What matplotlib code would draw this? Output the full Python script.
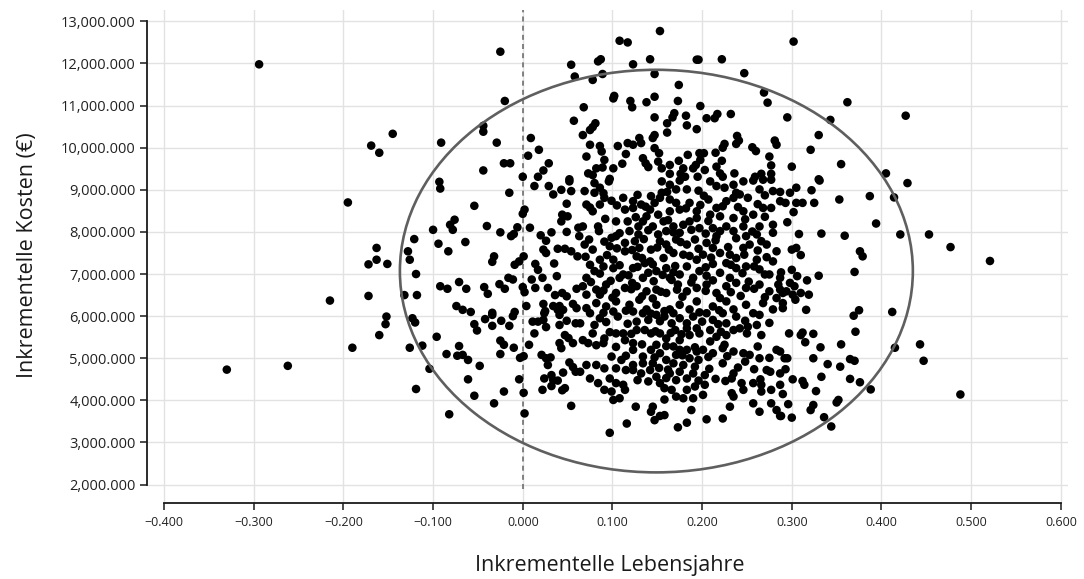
import numpy as np
import matplotlib
matplotlib.use("Agg")
import matplotlib.pyplot as plt
from matplotlib.patches import Ellipse

# ---------------- data ----------------
# incremental life years (x) and incremental costs in million EUR (y)
lebensjahre = [
    -0.294, -0.160, -0.169, -0.195, -0.163, -0.163, -0.172, -0.215, -0.172, -0.160,
    -0.190, -0.262, -0.330, -0.025, 0.054, 0.058, -0.020, 0.057, -0.145, -0.044,
    -0.044, -0.091, -0.029, 0.009, 0.018, 0.006, -0.021, -0.014, 0.029, -0.044,
    0.023, 0.000, 0.017, 0.052,
    # upper centre
    0.153, 0.108, 0.117, 0.084, 0.087, 0.123, 0.142, 0.194, 0.196, 0.222,
    0.247, 0.089, 0.078, 0.147, 0.174, 0.269, 0.273, 0.102, 0.101, 0.120,
    0.122, 0.138, 0.147, 0.173, 0.198, 0.068, 0.169, 0.167, 0.147, 0.182,
    0.205, 0.214, 0.217, 0.232, 0.161, 0.183, 0.194, 0.161, 0.081, 0.078,
    0.075, 0.067, 0.147, 0.145, 0.130, 0.132, 0.117, 0.123, 0.106, 0.075,
    0.086, 0.088, 0.147, 0.152, 0.239, 0.241, 0.238, 0.225, 0.223, 0.256,
    0.260, 0.281, 0.283, 0.071, 0.091, 0.115, 0.134, 0.137, 0.140, 0.151,
    0.164, 0.184, 0.174, 0.197, 0.202, 0.198, 0.193, 0.190, 0.215, 0.222,
    0.275, 0.277, 0.111, 0.101, 0.082, 0.089, 0.216, 0.220, 0.223, 0.203,
    0.179, 0.176, 0.181, 0.155, 0.164, 0.236, 0.266, 0.259, 0.277, 0.073,
    0.078, 0.097, 0.195,
    # right side
    0.302, 0.362, 0.295, 0.343, 0.427, 0.330, 0.321, 0.300, 0.355, 0.405,
    0.330, 0.331, 0.429, 0.305, 0.298, 0.287, 0.322, 0.293, 0.305, 0.312,
    0.325, 0.353, 0.387, 0.414, 0.302, 0.295, 0.394, 0.308, 0.333, 0.359,
    0.421, 0.453, 0.477, 0.300, 0.305, 0.310, 0.376, 0.379, 0.300, 0.288,
    0.370, 0.330, 0.306, 0.317, 0.298, 0.303, 0.294, 0.301, 0.287, 0.290,
    0.310, 0.319, 0.304, 0.290, 0.290, 0.316, 0.375, 0.412, 0.521, 0.369,
    0.297, 0.310, 0.312, 0.315, 0.324, 0.332, 0.355, 0.371, 0.415, 0.443,
    0.447, 0.287, 0.292, 0.295, 0.324, 0.340, 0.354, 0.365, 0.370, 0.293,
    0.301, 0.312, 0.314, 0.333, 0.365, 0.376, 0.388, 0.287, 0.290, 0.327,
    0.488, 0.296, 0.352, 0.350, 0.324, 0.321, 0.288, 0.300, 0.336, 0.344,
    # left centre, middle band
    -0.093, -0.092, 0.013, 0.029, 0.034, 0.052, 0.054, 0.043, -0.015, -0.054,
    0.049, 0.002, 0.000, 0.044, 0.050, 0.043, -0.076, -0.081, -0.078, -0.100,
    -0.040, -0.006, 0.008, -0.025, -0.013, -0.010, 0.020, 0.032, 0.049, 0.062,
    0.063, -0.121, -0.094, -0.064, -0.083, 0.026, 0.023, 0.026, 0.039, 0.047,
    0.054, 0.061, -0.128, -0.126, -0.151, -0.032, -0.034, 0.001, -0.004, -0.009,
    0.014, 0.017, 0.035, -0.119, -0.016, -0.011, 0.010, 0.022, 0.038, -0.092,
    -0.084, -0.071, -0.063, -0.043, -0.039, -0.026, -0.020, 0.000, 0.002, 0.014,
    0.028, 0.060, -0.132, -0.118, 0.036, 0.044, 0.049, -0.074, -0.067, -0.058,
    -0.034, -0.009, 0.004, 0.023, 0.025, 0.034, 0.041, 0.045, 0.056, 0.060,
    # left centre, lower band
    -0.152, -0.153, -0.123, -0.120, -0.054, -0.051, -0.042, -0.034, -0.034, -0.024,
    -0.015, -0.011, 0.011, 0.017, 0.013, 0.024, 0.023, 0.026, 0.039, 0.041,
    0.041, 0.049, 0.059, 0.047, 0.051, 0.041, 0.043, 0.056, -0.096, -0.126,
    -0.112, -0.071, -0.025, -0.021, -0.010, 0.007, -0.085, -0.073, -0.067, -0.061,
    -0.025, -0.003, 0.001, 0.021, 0.026, 0.031, 0.028, 0.052, 0.056, 0.059,
    -0.048, -0.104, 0.045, -0.061, -0.004, 0.024, 0.032, 0.034, 0.039, 0.032,
    0.022, 0.047, 0.044, -0.119, -0.021, 0.001, -0.054, -0.032, 0.054, -0.082,
    0.002,
    # dense centre, upper half
    0.069, 0.080, 0.096, 0.086, 0.080, 0.155, 0.164, 0.175, 0.171, 0.155,
    0.143, 0.183, 0.196, 0.209, 0.216, 0.225, 0.235, 0.246, 0.257, 0.268,
    0.277, 0.264, 0.242, 0.235, 0.251, 0.279, 0.071, 0.078, 0.086, 0.091,
    0.099, 0.112, 0.123, 0.114, 0.123, 0.132, 0.142, 0.147, 0.151, 0.153,
    0.164, 0.171, 0.175, 0.186, 0.164, 0.194, 0.209, 0.207, 0.216, 0.223,
    0.227, 0.246, 0.257, 0.268, 0.277, 0.287, 0.235, 0.220, 0.067, 0.084,
    0.104, 0.117, 0.129, 0.134, 0.145, 0.138, 0.157, 0.168, 0.179, 0.186,
    0.160, 0.175, 0.151, 0.129, 0.119, 0.197, 0.212, 0.227, 0.235, 0.246,
    0.264, 0.279, 0.220, 0.216, 0.249, 0.261, 0.279, 0.104, 0.069, 0.099,
    0.097, 0.114, 0.125, 0.130, 0.143, 0.153, 0.160, 0.171, 0.183, 0.192,
    0.168, 0.179, 0.157, 0.142, 0.127, 0.114, 0.101, 0.078, 0.086, 0.205,
    0.212, 0.220, 0.201, 0.194, 0.231, 0.238, 0.246, 0.253, 0.272, 0.283,
    0.279, 0.261, 0.075, 0.080, 0.071, 0.090, 0.101, 0.112, 0.123, 0.136,
    0.149, 0.160, 0.175, 0.183, 0.190, 0.197, 0.212, 0.220, 0.227, 0.238,
    0.249, 0.231, 0.264, 0.275, 0.287, 0.108, 0.134, 0.164, 0.067, 0.082,
    0.093, 0.104, 0.114, 0.127, 0.138, 0.149, 0.160, 0.173, 0.183, 0.194,
    0.205, 0.216, 0.227, 0.238, 0.249, 0.264, 0.275, 0.285, 0.086, 0.071,
    0.071, 0.082, 0.093, 0.104, 0.119, 0.130, 0.138, 0.149, 0.164, 0.175,
    0.186, 0.194, 0.212, 0.227, 0.235, 0.249, 0.268, 0.279, 0.283,
    # dense centre, lower half
    0.075, 0.086, 0.080, 0.101, 0.106, 0.123, 0.134, 0.127, 0.140, 0.149,
    0.158, 0.168, 0.175, 0.183, 0.190, 0.205, 0.212, 0.223, 0.238, 0.227,
    0.264, 0.261, 0.251, 0.242, 0.064, 0.194, 0.067, 0.078, 0.073, 0.091,
    0.090, 0.104, 0.112, 0.114, 0.127, 0.136, 0.143, 0.153, 0.160, 0.170,
    0.175, 0.183, 0.186, 0.197, 0.209, 0.216, 0.227, 0.235, 0.209, 0.266,
    0.123, 0.149, 0.168, 0.175, 0.099, 0.110, 0.123, 0.134, 0.143, 0.153,
    0.160, 0.171, 0.183, 0.194, 0.201, 0.212, 0.223, 0.235, 0.246, 0.253,
    0.264, 0.283, 0.186, 0.196, 0.071, 0.082, 0.091, 0.064, 0.123, 0.134,
    0.145, 0.168, 0.179, 0.192, 0.223, 0.248, 0.075, 0.084, 0.104, 0.112,
    0.123, 0.132, 0.142, 0.149, 0.153, 0.164, 0.175, 0.171, 0.183, 0.190,
    0.192, 0.183, 0.203, 0.203, 0.235, 0.233, 0.244, 0.257, 0.266, 0.272,
    0.276, 0.287, 0.091, 0.099, 0.114, 0.140, 0.158, 0.166, 0.246, 0.108,
    0.101, 0.158, 0.171, 0.179, 0.190, 0.201, 0.233, 0.235, 0.257, 0.266,
    0.277, 0.277, 0.283, 0.126, 0.145, 0.231, 0.264, 0.188, 0.143, 0.147,
    0.153, 0.158, 0.116, 0.097, 0.173, 0.183, 0.205, 0.223, 0.287,
]

kosten_mio = [
    11.98, 9.88, 10.05, 8.70, 7.62, 7.34, 7.23, 6.37, 6.48, 5.55,
    5.25, 4.82, 4.73, 12.28, 11.97, 11.69, 11.11, 10.64, 10.33, 10.52,
    10.38, 10.12, 10.12, 10.23, 9.95, 9.81, 9.63, 9.63, 9.63, 9.46,
    9.46, 9.31, 9.31, 9.25,
    # upper centre
    12.77, 12.54, 12.50, 12.05, 12.10, 11.98, 12.10, 12.09, 12.09, 12.10,
    11.77, 11.75, 11.61, 11.75, 11.49, 11.31, 11.07, 11.23, 11.17, 11.11,
    10.96, 11.08, 11.21, 11.11, 10.99, 10.96, 10.82, 10.72, 10.72, 10.76,
    10.70, 10.70, 10.80, 10.80, 10.58, 10.53, 10.44, 10.36, 10.58, 10.49,
    10.42, 10.30, 10.30, 10.23, 10.23, 10.11, 10.11, 10.07, 10.04, 10.07,
    10.04, 9.91, 9.99, 9.87, 10.28, 10.17, 10.09, 10.09, 10.00, 10.01,
    9.92, 10.17, 10.07, 9.79, 9.71, 9.85, 9.75, 9.63, 9.54, 9.67,
    9.59, 9.83, 9.69, 9.87, 9.87, 9.71, 9.59, 9.51, 9.88, 9.69,
    9.79, 9.58, 9.62, 9.51, 9.51, 9.53, 9.55, 9.39, 9.31, 9.47,
    9.51, 9.38, 9.31, 9.51, 9.38, 9.39, 9.38, 9.31, 9.38, 9.39,
    9.35, 9.26, 9.31,
    # right side
    12.52, 11.08, 10.72, 10.66, 10.76, 10.30, 9.95, 9.55, 9.61, 9.39,
    9.25, 9.22, 9.16, 9.05, 8.93, 8.95, 8.99, 8.69, 8.69, 8.69,
    8.69, 8.77, 8.85, 8.82, 8.47, 8.23, 8.20, 7.95, 7.96, 7.91,
    7.94, 7.94, 7.64, 7.58, 7.62, 7.45, 7.54, 7.42, 7.10, 7.04,
    7.05, 6.96, 6.95, 6.85, 6.79, 6.71, 6.59, 6.51, 6.63, 6.55,
    6.55, 6.51, 6.39, 6.31, 6.19, 6.15, 6.14, 6.10, 7.31, 6.01,
    5.59, 5.55, 5.61, 5.38, 5.58, 5.26, 5.33, 5.63, 5.25, 5.33,
    4.94, 5.16, 5.00, 5.00, 5.00, 4.86, 4.80, 4.98, 4.94, 4.74,
    4.50, 4.46, 4.37, 4.56, 4.51, 4.43, 4.26, 4.37, 4.15, 4.22,
    4.14, 3.91, 4.01, 3.95, 3.89, 3.77, 3.63, 3.59, 3.60, 3.38,
    # left centre, middle band
    9.19, 9.03, 9.09, 9.09, 8.89, 9.20, 8.97, 9.00, 8.93, 8.62,
    8.67, 8.53, 8.43, 8.41, 8.37, 8.25, 8.29, 8.17, 8.05, 8.05,
    8.14, 8.11, 8.10, 7.99, 7.90, 7.95, 7.92, 7.99, 8.00, 8.10,
    7.90, 7.83, 7.72, 7.76, 7.54, 7.79, 7.58, 7.50, 7.60, 7.60,
    7.54, 7.42, 7.54, 7.34, 7.24, 7.42, 7.29, 7.42, 7.30, 7.22,
    7.24, 7.10, 7.25, 7.00, 6.91, 6.87, 6.87, 6.91, 6.95, 6.71,
    6.65, 6.81, 6.65, 6.69, 6.53, 6.76, 6.65, 6.69, 6.57, 6.67,
    6.67, 6.65, 6.50, 6.50, 6.50, 6.55, 6.47, 6.24, 6.15, 6.10,
    6.08, 6.10, 6.24, 6.29, 6.12, 6.24, 6.24, 6.15, 6.29, 6.19,
    # left centre, lower band
    5.99, 5.81, 5.95, 5.85, 5.81, 5.66, 5.93, 6.03, 5.77, 5.89,
    5.77, 6.00, 5.87, 5.87, 5.59, 6.07, 5.91, 5.74, 6.15, 6.03,
    5.79, 5.89, 5.83, 5.55, 5.48, 5.36, 5.24, 5.36, 5.51, 5.25,
    5.30, 5.29, 5.42, 5.32, 5.25, 5.32, 5.10, 5.06, 5.08, 4.96,
    5.10, 5.01, 5.05, 5.08, 5.00, 5.02, 4.84, 4.90, 4.79, 4.68,
    4.82, 4.75, 4.66, 4.50, 4.50, 4.52, 4.60, 4.48, 4.47, 4.34,
    4.25, 4.29, 4.24, 4.27, 4.21, 4.18, 4.11, 3.93, 3.87, 3.67,
    3.69,
    # dense centre, upper half
    8.97, 9.16, 9.20, 9.05, 8.93, 9.20, 9.12, 9.22, 9.01, 8.93,
    8.85, 9.01, 8.98, 9.20, 9.09, 9.05, 9.12, 9.20, 9.22, 9.24,
    9.24, 9.01, 8.89, 8.81, 8.81, 8.97, 8.65, 8.49, 8.65, 8.81,
    8.74, 8.81, 8.73, 8.53, 8.57, 8.65, 8.53, 8.69, 8.41, 8.81,
    8.77, 8.69, 8.53, 8.69, 8.49, 8.49, 8.41, 8.77, 8.57, 8.61,
    8.73, 8.49, 8.41, 8.57, 8.57, 8.73, 8.33, 8.37, 8.13, 8.13,
    8.25, 8.25, 8.13, 8.25, 8.13, 8.37, 8.25, 8.13, 8.17, 8.25,
    8.02, 7.98, 7.94, 7.94, 8.02, 8.09, 8.09, 8.13, 8.02, 8.13,
    8.13, 8.17, 8.02, 7.90, 7.90, 7.94, 7.98, 7.90, 7.70, 7.86,
    7.66, 7.74, 7.78, 7.62, 7.58, 7.78, 7.70, 7.82, 7.70, 7.82,
    7.50, 7.46, 7.38, 7.30, 7.42, 7.54, 7.34, 7.58, 7.34, 7.74,
    7.62, 7.50, 7.46, 7.34, 7.46, 7.38, 7.62, 7.70, 7.70, 7.54,
    7.30, 7.34, 7.22, 7.07, 6.91, 7.18, 7.14, 6.99, 7.14, 7.26,
    7.07, 7.14, 6.99, 7.18, 6.91, 7.07, 7.24, 7.03, 7.26, 7.14,
    7.18, 6.91, 7.11, 6.99, 6.91, 6.91, 6.91, 6.91, 6.71, 6.63,
    6.75, 6.55, 6.67, 6.71, 6.59, 6.63, 6.55, 6.75, 6.59, 6.67,
    6.75, 6.55, 6.71, 6.79, 6.67, 6.75, 6.59, 6.75, 6.51, 6.51,
    6.19, 6.31, 6.23, 6.35, 6.27, 6.39, 6.16, 6.27, 6.16, 6.27,
    6.16, 6.35, 6.23, 6.35, 6.16, 6.27, 6.31, 6.16, 6.43,
    # dense centre, lower half
    6.07, 5.95, 5.79, 6.11, 5.99, 6.11, 6.07, 5.87, 5.91, 6.03,
    5.99, 6.07, 5.95, 5.83, 5.99, 6.07, 5.91, 6.07, 5.99, 5.83,
    6.03, 5.79, 5.75, 5.71, 5.83, 5.71, 5.43, 5.59, 5.36, 5.47,
    5.36, 5.59, 5.59, 5.43, 5.67, 5.67, 5.59, 5.59, 5.47, 5.67,
    5.43, 5.71, 5.55, 5.59, 5.67, 5.51, 5.55, 5.67, 5.40, 5.55,
    5.36, 5.32, 5.28, 5.20, 5.04, 4.96, 5.20, 5.04, 5.20, 5.12,
    4.96, 5.08, 5.20, 5.16, 5.20, 5.12, 5.24, 5.16, 5.12, 5.08,
    5.00, 5.20, 5.00, 4.96, 4.84, 4.84, 4.76, 4.68, 4.84, 4.88,
    4.88, 4.88, 4.84, 4.80, 4.88, 4.92, 4.52, 4.41, 4.41, 4.37,
    4.72, 4.64, 4.72, 4.56, 4.41, 4.64, 4.68, 4.48, 4.52, 4.64,
    4.33, 4.25, 4.60, 4.37, 4.64, 4.52, 4.41, 4.41, 4.37, 4.72,
    4.68, 4.64, 4.25, 4.21, 4.25, 4.45, 4.29, 4.25, 4.25, 4.05,
    4.01, 4.02, 4.09, 4.05, 4.05, 4.13, 4.17, 4.09, 3.93, 4.21,
    4.25, 3.93, 3.77, 3.85, 3.85, 3.85, 3.73, 3.77, 3.73, 3.53,
    3.63, 3.65, 3.45, 3.23, 3.36, 3.47, 3.55, 3.57, 3.63,
]

# further points in the most crowded core of the cloud (overlapping dots)
kern_lebensjahre = [
    0.090, 0.128, 0.161, 0.202, 0.238, 0.270,
    0.075, 0.105, 0.137, 0.182, 0.198, 0.240, 0.262,
    0.092, 0.126, 0.162, 0.194, 0.207, 0.248, 0.270,
    0.085, 0.108, 0.140, 0.168, 0.188, 0.204, 0.256,
    0.074, 0.091, 0.135, 0.176, 0.215, 0.238, 0.266,
    0.105, 0.122, 0.150, 0.163, 0.196, 0.229, 0.262,
    0.070, 0.094, 0.133, 0.186, 0.210, 0.247, 0.272,
    0.108, 0.128, 0.145, 0.170, 0.204, 0.232, 0.258,
    0.086, 0.118, 0.140, 0.156, 0.168, 0.205, 0.245, 0.270,
    0.076, 0.098, 0.122, 0.146, 0.166, 0.188, 0.212, 0.252,
    0.090, 0.121, 0.154, 0.172, 0.204, 0.232, 0.258,
    0.100, 0.133, 0.145, 0.178, 0.220, 0.243, 0.270,
    0.090, 0.115, 0.143, 0.158, 0.197, 0.219, 0.257,
    0.093, 0.117, 0.153, 0.166, 0.200, 0.218, 0.248, 0.275,
    0.097, 0.121, 0.148, 0.165, 0.177, 0.221, 0.250,
    0.082, 0.104, 0.133, 0.160, 0.192, 0.225, 0.262,
    0.115, 0.147, 0.178, 0.207, 0.228, 0.275,
    0.104, 0.115, 0.152, 0.162, 0.208, 0.240, 0.258,
    0.097, 0.128, 0.160, 0.196, 0.215, 0.226, 0.265,
]
kern_kosten_mio = [
    8.92, 8.88, 8.95, 8.86, 8.93, 8.87,
    8.58, 8.63, 8.60, 8.56, 8.64, 8.59, 8.66,
    8.31, 8.35, 8.28, 8.33, 8.26, 8.30, 8.36,
    8.02, 7.97, 8.04, 7.99, 8.05, 7.96, 8.01,
    7.82, 7.77, 7.83, 7.76, 7.80, 7.85, 7.78,
    7.61, 7.57, 7.63, 7.58, 7.60, 7.64, 7.56,
    7.41, 7.45, 7.38, 7.43, 7.39, 7.46, 7.40,
    7.21, 7.17, 7.23, 7.19, 7.16, 7.22, 7.18,
    7.01, 6.97, 7.03, 6.98, 7.04, 6.96, 7.02, 6.99,
    6.81, 6.84, 6.79, 6.83, 6.86, 6.80, 6.85, 6.82,
    6.61, 6.64, 6.58, 6.63, 6.60, 6.57, 6.65,
    6.44, 6.47, 6.42, 6.46, 6.43, 6.48, 6.45,
    6.08, 6.13, 6.06, 6.12, 6.09, 6.14, 6.07,
    5.86, 5.82, 5.88, 5.83, 5.87, 5.81, 5.89, 5.84,
    5.62, 5.58, 5.64, 5.60, 5.57, 5.63, 5.59,
    5.31, 5.27, 5.33, 5.29, 5.26, 5.32, 5.28,
    5.06, 5.02, 5.07, 5.03, 5.05, 5.01,
    4.76, 4.72, 4.77, 4.73, 4.75, 4.78, 4.74,
    4.52, 4.48, 4.53, 4.47, 4.51, 4.46, 4.50,
]

x_ticks = [-0.4, -0.3, -0.2, -0.1, 0.0, 0.1, 0.2, 0.3, 0.4, 0.5, 0.6]
x_tick_labels = ["\u22120.400", "\u22120.300", "\u22120.200", "\u22120.100", "0.000",
                 "0.100", "0.200", "0.300", "0.400", "0.500", "0.600"]
y_ticks_mio = [2, 3, 4, 5, 6, 7, 8, 9, 10, 11, 12, 13]
y_tick_labels = ["2,000.000", "3,000.000", "4,000.000", "5,000.000", "6,000.000",
                 "7,000.000", "8,000.000", "9,000.000", "10,000.000", "11,000.000",
                 "12,000.000", "13,000.000"]

# confidence ellipse (centre, full width, full height)
ellipse_center = (0.149, 7.07e6)
ellipse_width = 0.572
ellipse_height = 9.56e6

x_label = "Inkrementelle Lebensjahre"
y_label = "Inkrementelle Kosten (\u20ac)"

# ---------------- plot ----------------
plt.rcParams['font.family'] = ['Open Sans', 'DejaVu Sans']

n1 = min(len(lebensjahre), len(kosten_mio))
n2 = min(len(kern_lebensjahre), len(kern_kosten_mio))
xs = np.array(lebensjahre[:n1] + kern_lebensjahre[:n2])
ys = np.array(kosten_mio[:n1] + kern_kosten_mio[:n2]) * 1e6

W, H = 1084, 579
fig = plt.figure(figsize=(W / 100, H / 100), dpi=100)
left_px, right_px, top_px, bottom_px = 147, 1068, 10, 503
ax = fig.add_axes([left_px / W, 1 - bottom_px / H,
                   (right_px - left_px) / W, (bottom_px - top_px) / H])

ax.set_xlim(-0.419, 0.608)
ax.set_ylim(1.563e6, 13.27e6)

ax.set_xticks(x_ticks)
ax.set_xticklabels(x_tick_labels)
ax.set_yticks([v * 1e6 for v in y_ticks_mio])
ax.set_yticklabels(y_tick_labels)

ax.grid(True, color='#e2e2e2', linewidth=1.0, zorder=0)
ax.set_axisbelow(True)

for s in ['top', 'right']:
    ax.spines[s].set_visible(False)
ax.spines['left'].set_bounds(2e6, 13e6)
ax.spines['bottom'].set_bounds(-0.4, 0.6)
for s in ['left', 'bottom']:
    ax.spines[s].set_color('#1a1a1a')
    ax.spines[s].set_linewidth(1.3)

ax.tick_params(axis='both', direction='out', length=5, width=1.1, color='#1a1a1a',
               labelcolor='#222222')
ax.tick_params(axis='y', labelsize=10.5, pad=3)
ax.tick_params(axis='x', labelsize=9, pad=4)

# dashed zero line
ax.vlines(0, 1.9e6, 13.27e6, colors='#6e6e6e', linestyles=(0, (3, 2.5)),
          linewidth=1.2, zorder=1)

# points
ax.scatter(xs, ys, s=38, color='black', edgecolors='none', zorder=3)

# ellipse
ell = Ellipse(ellipse_center, ellipse_width, ellipse_height, fill=False,
              edgecolor='#5f5f5f', linewidth=1.9, zorder=4)
ax.add_patch(ell)

fig.text(28 / W, 1 - 255 / H, y_label, rotation=90, ha='center', va='center',
         fontsize=15.5, color='#1a1a1a')
fig.text(610 / W, 1 - 565 / H, x_label, ha='center', va='center',
         fontsize=15.5, color='#1a1a1a')

fig.savefig('out.png', dpi=100)
